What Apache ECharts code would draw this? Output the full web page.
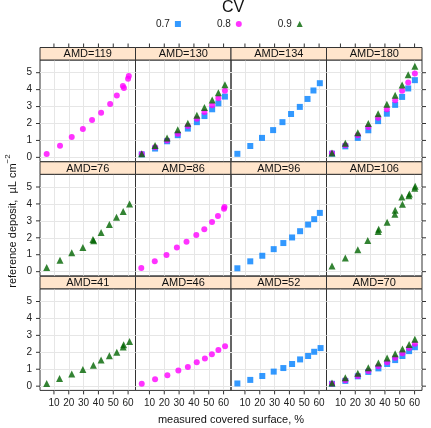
<!DOCTYPE html>
<html>
<head>
<meta charset="utf-8">
<script src="https://cdn.jsdelivr.net/npm/echarts@6.0.0/dist/echarts.min.js"></script>
<style>
  html, body { margin: 0; padding: 0; background: #fff; }
  #chart { width: 431px; height: 428px; }
</style>
</head>
<body>
<div id="chart"></div>
<script>
// panels in lattice order, top row first
const panelNames = ["AMD=119", "AMD=130", "AMD=134", "AMD=180",
                    "AMD=76", "AMD=86", "AMD=96", "AMD=106",
                    "AMD=41", "AMD=46", "AMD=52", "AMD=70"]
const cvLevels = ["0.7", "0.8", "0.9"]
const xTicks = [10, 20, 30, 40, 50, 60]
const yTicks = [0, 1, 2, 3, 4, 5]

// AMD=119
const x119 = [5.1, 14.1, 22, 29.5, 35.7, 41.8, 47.9, 52.4, 56.5, 57.2, 60, 60.5]
const y119_08 = [0.2, 0.69, 1.21, 1.68, 2.2, 2.63, 3.15, 3.65, 4.22, 4.1, 4.64, 4.8]
// AMD=130
const x130 = [4.8, 13.8, 21.9, 29.1, 35.9, 42, 47.1, 52.3, 56.5, 60.9]
const y130_07 = [0.18, 0.52, 0.95, 1.31, 1.7, 2.08, 2.44, 2.84, 3.19, 3.59]
const y130_08 = [0.2, 0.6, 1.0, 1.39, 1.85, 2.28, 2.68, 3.08, 3.49, 3.93]
const y130_09 = [0.22, 0.7, 1.15, 1.63, 2.02, 2.48, 2.94, 3.39, 3.81, 4.29]
// AMD=134
const x134 = [4.9, 13.6, 21.5, 29, 35.3, 41.1, 47, 52.2, 56.2, 60.5]
const y134_07 = [0.21, 0.67, 1.15, 1.61, 2.08, 2.56, 2.98, 3.45, 3.95, 4.38]
// AMD=180
const x180 = [4.3, 13.3, 21.7, 28.8, 35.4, 41.3, 46.9, 51.6, 55.7, 60.2]
const y180_07 = [0.22, 0.65, 1.15, 1.6, 2.14, 2.58, 3.1, 3.57, 4.07, 4.56]
const y180_08 = [0.24, 0.72, 1.31, 1.79, 2.34, 2.84, 3.37, 3.93, 4.42, 4.96]
const y180_09 = [0.26, 0.83, 1.45, 2.0, 2.58, 3.13, 3.67, 4.27, 4.88, 5.38]
// AMD=76
const x76 = [5.1, 14.1, 22, 29.5, 36.3, 36.8, 41.8, 47.4, 52.2, 56.7, 61]
const y76_09 = [0.24, 0.67, 1.12, 1.43, 1.9, 1.82, 2.31, 2.78, 3.22, 3.55, 4.0]
// AMD=86
const x86 = [4.5, 13.6, 21.5, 28.5, 35, 41.6, 47, 52.2, 56.2, 60.3, 60.6]
const y86_08 = [0.22, 0.61, 0.98, 1.43, 1.76, 2.16, 2.51, 2.94, 3.29, 3.71, 3.82]
// AMD=96
const x96 = [4.9, 13.6, 21.7, 29.4, 35.9, 41.8, 47.2, 52.6, 56.7, 60.5]
const y96_07 = [0.2, 0.61, 0.94, 1.33, 1.69, 2.02, 2.39, 2.78, 3.1, 3.47]
// AMD=106
const x106 = [4.3, 13.3, 21.7, 28.4, 35.4, 35.8, 41.5, 46.7, 46.9, 51.4, 51.8, 56.1, 56.5, 60.1, 60.4]
const y106_09 = [0.33, 0.8, 1.29, 1.84, 2.37, 2.5, 2.92, 3.39, 3.62, 4.41, 3.98, 4.49, 4.58, 4.92, 5.04]
// AMD=41
const x41 = [5.1, 13.8, 22, 29.5, 36.6, 41.8, 47.4, 52.4, 56.7, 57, 61]
const y41_09 = [0.16, 0.45, 0.72, 0.98, 1.23, 1.54, 1.8, 2.01, 2.32, 2.44, 2.64]
// AMD=46
const x46 = [4.8, 13.8, 22.1, 29.5, 35.9, 41.9, 47.4, 52.1, 56.5, 61]
const y46_08 = [0.14, 0.41, 0.64, 0.92, 1.13, 1.41, 1.64, 1.89, 2.13, 2.36]
// AMD=52
const x52 = [4.9, 13.6, 21.7, 29.4, 35.9, 41.8, 47.2, 52.6, 56.7, 61]
const y52_07 = [0.16, 0.37, 0.6, 0.86, 1.07, 1.31, 1.58, 1.78, 2.03, 2.25]
// AMD=70
const x70 = [4.3, 13.3, 21.7, 28.8, 35.6, 41.5, 46.9, 51.8, 56.3, 60.2]
const y70_07 = [0.14, 0.31, 0.58, 0.84, 1.05, 1.31, 1.54, 1.78, 2.07, 2.3]
const y70_08 = [0.15, 0.35, 0.6, 0.9, 1.17, 1.41, 1.68, 1.95, 2.25, 2.5]
const y70_09 = [0.18, 0.5, 0.76, 1.09, 1.37, 1.66, 1.91, 2.2, 2.46, 2.77]

const panelGroups = [
  [["0.8", x119, y119_08]],
  [["0.7", x130, y130_07], ["0.8", x130, y130_08], ["0.9", x130, y130_09]],
  [["0.7", x134, y134_07]],
  [["0.7", x180, y180_07], ["0.8", x180, y180_08], ["0.9", x180, y180_09]],
  [["0.9", x76, y76_09]],
  [["0.8", x86, y86_08]],
  [["0.7", x96, y96_07]],
  [["0.9", x106, y106_09]],
  [["0.9", x41, y41_09]],
  [["0.8", x46, y46_08]],
  [["0.7", x52, y52_07]],
  [["0.7", x70, y70_07], ["0.8", x70, y70_08], ["0.9", x70, y70_09]]
]

const cvColor = { "0.7": "#0080ff", "0.8": "#ff00ff", "0.9": "#006400" }
const cvSymbol = { "0.7": "rect", "0.8": "circle", "0.9": "triangle" }
const cvSize = { "0.7": 6, "0.8": 6, "0.9": 7 }

// layout
const font = "Liberation Sans"
const colLeft = [40, 135.5, 231, 326.5]
const colW = 95.5
const rowTop = [60, 174.3, 288.8]
const rowH = 101.6
const stripH = 12.5
const tickLen = 4
const xMin = 0.6, xMax = 65
const yMin = -0.25, yMax = 5.75
const borderCol = "#333"
const gridCol = "#e6e6e6"

const grids = [], xAxes = [], yAxes = [], series = [], graphics = []
const noLabel = () => ""

panelNames.forEach((name, i) => {
  const row = Math.floor(i / 4), col = i % 4
  grids.push({
    left: colLeft[col], top: rowTop[row], width: colW, height: rowH,
    show: true, borderColor: borderCol, borderWidth: 1, backgroundColor: "transparent"
  })
  const bottomRow = row === 2
  xAxes.push({
    type: "value", gridIndex: i, min: xMin, max: xMax,
    axisLine: { show: false },
    axisTick: { show: false, customValues: xTicks },
    axisLabel: { show: true, customValues: xTicks, fontSize: 10, fontFamily: font, color: "#222", margin: 8,
                 formatter: bottomRow ? undefined : noLabel },
    splitLine: { show: true, lineStyle: { color: gridCol, width: 1 } }
  })
  yAxes.push({
    type: "value", gridIndex: i, min: yMin, max: yMax,
    axisLine: { show: false },
    axisTick: { show: false, customValues: yTicks },
    axisLabel: { show: true, customValues: yTicks, fontSize: 10, fontFamily: font, color: "#222", margin: 8,
                 formatter: col === 0 ? undefined : noLabel },
    splitLine: { show: true, lineStyle: { color: gridCol, width: 1 } }
  })

  // strip
  graphics.push({
    type: "rect", z: 10,
    shape: { x: colLeft[col], y: rowTop[row] - stripH, width: colW, height: stripH },
    style: { fill: "#ffe5cc", stroke: borderCol, lineWidth: 1 }
  })
  graphics.push({
    type: "text", z: 11,
    x: colLeft[col] + colW / 2, y: rowTop[row] - stripH / 2 + 0.5,
    style: { text: name, fontSize: 11, fontFamily: font, fill: "#111", align: "center", verticalAlign: "middle" }
  })

  panelGroups[i].forEach(([cv, xs, ys]) => {
    series.push({
      name: cv, type: "scatter", xAxisIndex: i, yAxisIndex: i,
      symbol: cvSymbol[cv], symbolSize: cvSize[cv],
      itemStyle: { color: cvColor[cv] },
      data: xs.map((x, k) => [x, ys[k]]),
      silent: true
    })
  })
})

// key title and axis titles
graphics.push({
  type: "text", x: 233, y: 8,
  style: { text: "CV", fontSize: 16, fontFamily: font, fill: "#111", align: "center", verticalAlign: "middle" }
})
graphics.push({
  type: "text", x: 231, y: 420,
  style: { text: "measured covered surface, %", fontSize: 11, fontFamily: font, fill: "#111", align: "center", verticalAlign: "middle" }
})
graphics.push({
  type: "text", x: 11, y: 221, rotation: Math.PI / 2,
  style: {
    text: "{a|reference deposit,  \u00b5L cm}{b|\u22122}",
    align: "center", verticalAlign: "middle",
    rich: {
      a: { fontSize: 11, fontFamily: font, fill: "#111", lineHeight: 15, verticalAlign: "bottom" },
      b: { fontSize: 8, fontFamily: font, fill: "#111", lineHeight: 15, verticalAlign: "top" }
    }
  }
})

const chart = echarts.init(document.getElementById("chart"), null, { renderer: "canvas" })
chart.setOption({
  animation: false,
  backgroundColor: "#fff",
  legend: {
    top: 14, left: 151, align: "right", itemWidth: 6, itemHeight: 6, itemGap: 36,
    selectedMode: false,
    textStyle: { fontSize: 10, fontFamily: font, color: "#222" },
    data: cvLevels.map(cv => ({ name: cv, icon: cvSymbol[cv] }))
  },
  grid: grids,
  xAxis: xAxes,
  yAxis: yAxes,
  series: series,
  graphic: graphics
})

// outer tick marks (bottom, top above the strips, left, right), placed through the axes' scales
const tickLine = (x1, y1, x2, y2) => ({
  type: "line", z: 12, silent: true,
  shape: { x1, y1, x2, y2 },
  style: { stroke: borderCol, lineWidth: 1 }
})
const ticks = []
for (let col = 0; col < 4; col++) {
  const topIdx = col, botIdx = 8 + col
  xTicks.forEach(v => {
    const pTop = chart.convertToPixel({ xAxisIndex: topIdx }, v)
    const yTop = rowTop[0] - stripH
    ticks.push(tickLine(pTop, yTop, pTop, yTop - tickLen))
    const pBot = chart.convertToPixel({ xAxisIndex: botIdx }, v)
    const yBot = rowTop[2] + rowH
    ticks.push(tickLine(pBot, yBot, pBot, yBot + tickLen))
  })
}
for (let row = 0; row < 3; row++) {
  yTicks.forEach(v => {
    const pL = chart.convertToPixel({ yAxisIndex: row * 4 }, v)
    ticks.push(tickLine(colLeft[0], pL, colLeft[0] - tickLen, pL))
    const pR = chart.convertToPixel({ yAxisIndex: row * 4 + 3 }, v)
    const xR = colLeft[3] + colW
    ticks.push(tickLine(xR, pR, xR + tickLen, pR))
  })
}
chart.setOption({ graphic: graphics.concat(ticks) })
</script>
</body>
</html>
